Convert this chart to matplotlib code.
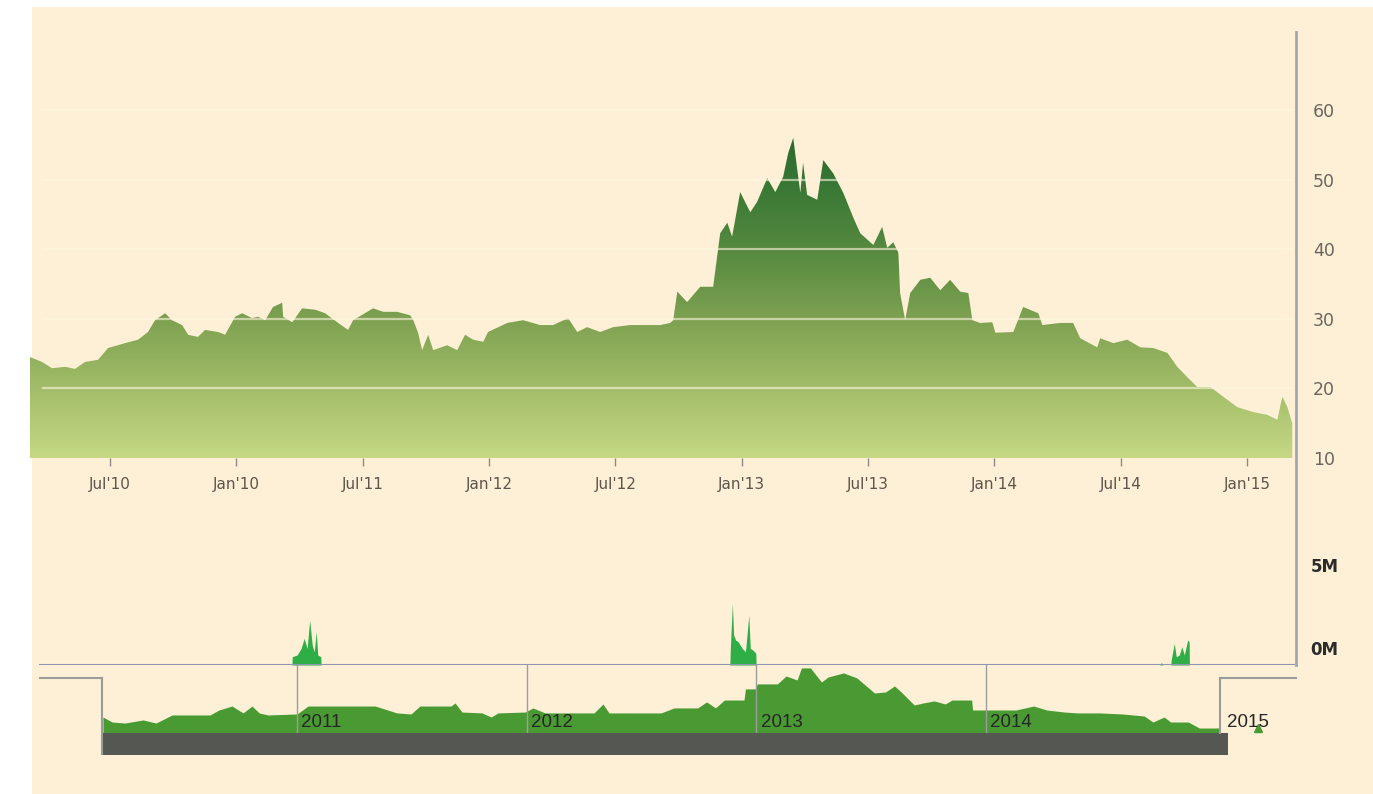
import matplotlib
matplotlib.use("Agg")
import numpy as np
import matplotlib.pyplot as plt
import matplotlib.transforms as mtransforms
from matplotlib.colors import LinearSegmentedColormap
from matplotlib.patches import Rectangle, PathPatch
from matplotlib.lines import Line2D

# price history (time in decimal years, price)
price_t = [2010.183, 2010.231, 2010.270, 2010.322, 2010.361, 2010.401, 2010.452, 2010.492,
           2010.559, 2010.611, 2010.650, 2010.678, 2010.718, 2010.745, 2010.785, 2010.809,
           2010.848, 2010.876, 2010.928, 2010.955, 2010.995, 2011.023, 2011.062, 2011.086,
           2011.114, 2011.145, 2011.181, 2011.185, 2011.221, 2011.260, 2011.312, 2011.351,
           2011.403, 2011.442, 2011.462, 2011.541, 2011.581, 2011.636, 2011.688, 2011.700,
           2011.719, 2011.735, 2011.759, 2011.779, 2011.834, 2011.874, 2011.905, 2011.937,
           2011.977, 2011.996, 2012.072, 2012.135, 2012.202, 2012.254, 2012.313, 2012.349,
           2012.388, 2012.440, 2012.491, 2012.559, 2012.626, 2012.677, 2012.717, 2012.729,
           2012.745, 2012.784, 2012.836, 2012.887, 2012.915, 2012.943, 2012.962, 2012.994,
           2013.034, 2013.061, 2013.101, 2013.133, 2013.164, 2013.184, 2013.204, 2013.220,
           2013.232, 2013.243, 2013.259, 2013.299, 2013.323, 2013.362, 2013.402, 2013.441,
           2013.469, 2013.521, 2013.556, 2013.576, 2013.600, 2013.620, 2013.627, 2013.647,
           2013.667, 2013.707, 2013.746, 2013.786, 2013.825, 2013.865, 2013.897, 2013.913,
           2013.944, 2013.992, 2014.004, 2014.075, 2014.114, 2014.174, 2014.190, 2014.261,
           2014.312, 2014.340, 2014.407, 2014.419, 2014.471, 2014.526, 2014.578, 2014.629,
           2014.685, 2014.724, 2014.764, 2014.803, 2014.855, 2014.906, 2014.962, 2015.025,
           2015.080, 2015.120, 2015.140, 2015.160, 2015.179]
price_v = [24.5, 23.8, 22.9, 23.1, 22.8, 23.8, 24.1, 25.8,
           26.5, 27.0, 28.1, 29.8, 30.8, 29.8, 29.1, 27.7,
           27.4, 28.4, 28.1, 27.7, 30.3, 30.8, 30.1, 30.3,
           29.8, 31.7, 32.3, 30.3, 29.5, 31.5, 31.3, 30.8,
           29.4, 28.4, 29.8, 31.5, 31.0, 31.0, 30.5, 29.8,
           28.0, 25.5, 27.7, 25.5, 26.2, 25.5, 27.7, 27.0,
           26.7, 28.1, 29.4, 29.8, 29.1, 29.1, 30.1, 28.1,
           28.8, 28.1, 28.8, 29.1, 29.1, 29.1, 29.4, 29.8,
           33.9, 32.4, 34.6, 34.6, 42.3, 43.8, 41.8, 48.2,
           45.3, 46.8, 50.2, 48.2, 50.4, 53.8, 56.0, 51.4,
           48.1, 52.4, 47.8, 47.1, 52.8, 50.9, 48.1, 44.6,
           42.3, 40.6, 43.2, 40.2, 41.0, 39.5, 33.7, 29.8,
           33.7, 35.6, 35.9, 34.1, 35.6, 33.9, 33.7, 29.8,
           29.4, 29.5, 28.0, 28.1, 31.7, 30.8, 29.1, 29.4,
           29.4, 27.2, 25.9, 27.2, 26.5, 27.0, 25.9, 25.8,
           25.1, 23.1, 21.6, 20.2, 20.2, 18.8, 17.3, 16.6,
           16.2, 15.5, 18.8, 17.3, 15.0]

# traded volume (millions)
vol_t = [2010.183, 2011.220, 2011.221, 2011.240, 2011.256, 2011.268, 2011.280, 2011.290,
         2011.300, 2011.308, 2011.316, 2011.322, 2011.334, 2011.335,
         2012.953, 2012.955, 2012.963, 2012.968, 2012.976, 2012.986, 2013.002, 2013.015,
         2013.028, 2013.034, 2013.044, 2013.056, 2013.057,
         2014.655, 2014.661, 2014.667, 2014.699, 2014.700, 2014.712, 2014.720, 2014.732,
         2014.742, 2014.752, 2014.765, 2014.771, 2014.772, 2015.179]
vol_v = [0, 0, 0.5, 0.6, 1.0, 1.6, 1.0, 2.7,
         1.2, 0.8, 2.0, 0.6, 0.5, 0,
         0, 1.0, 3.7, 1.8, 1.5, 1.4, 1.0, 0.8,
         3.0, 1.0, 0.9, 0.7, 0,
         0, 0.15, 0, 0, 0.3, 1.3, 0.5, 0.6,
         1.1, 0.6, 1.5, 1.4, 0, 0]

# navigator overview series
nav_t = [2010.155, 2010.195, 2010.251, 2010.330, 2010.386, 2010.456, 2010.621, 2010.660,
         2010.717, 2010.765, 2010.804, 2010.835, 2010.874, 2011.000, 2011.048, 2011.340,
         2011.435, 2011.496, 2011.535, 2011.670, 2011.688, 2011.718, 2011.805, 2011.845,
         2011.875, 2011.993, 2012.027, 2012.080, 2012.293, 2012.332, 2012.358, 2012.585,
         2012.641, 2012.744, 2012.783, 2012.822, 2012.860, 2012.946, 2012.952, 2012.994,
         2013.004, 2013.091, 2013.129, 2013.177, 2013.196, 2013.235, 2013.283, 2013.312,
         2013.379, 2013.437, 2013.514, 2013.562, 2013.601, 2013.630, 2013.687, 2013.726,
         2013.774, 2013.822, 2013.851, 2013.937, 2013.941, 2013.995, 2014.130, 2014.207,
         2014.264, 2014.341, 2014.399, 2014.495, 2014.592, 2014.688, 2014.726, 2014.775,
         2014.803, 2014.880, 2014.928, 2015.015]
nav_v = [22.5, 19.1, 18.4, 20.5, 18.4, 23.9, 23.9, 27.3,
         30.0, 25.3, 30.0, 25.3, 23.9, 24.6, 30.0, 30.0,
         25.3, 24.6, 30.0, 30.0, 32.1, 25.9, 25.3, 22.5,
         25.3, 25.9, 28.7, 25.3, 25.3, 31.4, 25.3, 25.3,
         28.7, 28.7, 32.8, 28.7, 34.1, 34.1, 41.7, 41.7,
         45.1, 45.1, 50.5, 47.8, 56.0, 56.0, 46.4, 49.8,
         52.6, 49.2, 38.9, 39.6, 43.7, 39.6, 30.7, 32.1,
         33.5, 31.4, 34.1, 34.1, 27.3, 27.3, 27.3, 30.0,
         27.3, 25.9, 25.3, 25.3, 24.6, 23.2, 19.1, 22.5,
         19.1, 19.1, 15.0, 15.0]
nav_range = (2010.151, 2015.02)
nav_extra = (2015.184, 15.0)

tick_pos = [2010.5, 2011.0, 2011.5, 2012.0, 2012.5, 2013.0, 2013.5, 2014.0, 2014.5, 2015.0]
tick_labels = ["Jul'10", "Jan'10", "Jul'11", "Jan'12", "Jul'12",
               "Jan'13", "Jul'13", "Jan'14", "Jul'14", "Jan'15"]
price_ticks = [10, 20, 30, 40, 50, 60]
nav_years = [2011, 2012, 2013, 2014, 2015]

W, H = 1373, 794


def box(x0, y0, x1, y1):
    # pixel box (top-left origin) -> figure rect
    return [x0 / W, 1 - y1 / H, (x1 - x0) / W, (y1 - y0) / H]


plt.rcParams["font.family"] = ["DejaVu Sans"]
fig = plt.figure(figsize=(W / 100, H / 100), dpi=100, facecolor="white")
fig.add_artist(Rectangle((32 / W, 0), 1 - 32 / W, 1 - 7 / H, transform=fig.transFigure,
                         facecolor="#fdf0d6", edgecolor="none", zorder=0))

# ---- main price chart
ax = fig.add_axes(box(30, 32, 1295, 458))
ax.set_facecolor("none")
xlim = (2010.183, 2015.19)
ylim = (10, 71.2)

poly = ax.fill_between(price_t, price_v, 10, facecolor="none", edgecolor="none")
clip = PathPatch(poly.get_paths()[0], transform=ax.transData, facecolor="none", edgecolor="none")
ax.add_patch(clip)
cmap = LinearSegmentedColormap.from_list(
    "price", [(0.0, "#c6d884"), (0.213, "#a2bd69"), (0.426, "#7da151"),
              (0.638, "#55893f"), (0.851, "#367634"), (1.0, "#2a682c")])
grad = np.linspace(0, 1, 256).reshape(-1, 1)
im = ax.imshow(grad, extent=[xlim[0], xlim[1], 10, 57], origin="lower", aspect="auto",
               cmap=cmap, zorder=1)
im.set_clip_path(clip)

for v in price_ticks[1:]:
    ax.axhline(v, xmin=0.01, xmax=0.997, color="#fff6df", alpha=0.6, lw=1.6, zorder=3)

ax.set_xlim(*xlim)
ax.set_ylim(*ylim)
for s in ax.spines.values():
    s.set_visible(False)
ax.yaxis.tick_right()
ax.set_yticks(price_ticks)
ax.set_yticklabels([str(v) for v in price_ticks])
ax.tick_params(axis="y", length=0, pad=13, labelsize=12.5, labelcolor="#6b6560")
ax.set_xticks(tick_pos)
ax.set_xticklabels(tick_labels)
ax.tick_params(axis="x", length=6, width=1, color="#8f8a84", pad=8,
               labelsize=11, labelcolor="#5e554c")

# ---- volume panel
axv = fig.add_axes(box(30, 540, 1295, 665))
axv.set_facecolor("none")
axv.fill_between(vol_t, vol_v, 0, color="#2fae48", lw=0)
axv.set_xlim(*xlim)
axv.set_ylim(0, 7.53)
axv.axis("off")
axv.axhline(0, xmin=10 / 1265, xmax=1.0, color="#8e94b6", lw=1.5)
for val, lab in [(0, "0M"), (5, "5M")]:
    axv.annotate(lab, xy=(1, val), xycoords=("axes fraction", "data"),
                 xytext=(11, 11), textcoords="offset points", ha="left", va="center",
                 fontsize=12, fontweight="bold", color="#2b2b2b")

# right axis line through both panels
fig.add_artist(Line2D([1296 / W, 1296 / W], [1 - 32 / H, 1 - 665 / H],
                      color="#a4a6b2", lw=2, transform=fig.transFigure))

# ---- navigator
axn = fig.add_axes(box(40, 665, 1296, 733))
axn.set_facecolor("none")
axn.fill_between(nav_t, nav_v, 11.6, color="#4a9a33", lw=0, zorder=2)
axn.plot([nav_extra[0]], [nav_extra[1]], marker="^", ms=6, color="#4a9a33", zorder=2)
axn.set_xlim(2009.881, 2015.349)
axn.set_ylim(11.6, 58)
axn.axis("off")
bt = mtransforms.blended_transform_factory(axn.transData, axn.transAxes)
for yr in nav_years[:-1]:
    axn.plot([yr, yr], [0, 1], transform=bt, color="#9d9d9d", lw=1, zorder=3)
for yr in nav_years:
    dx = 3 if yr < nav_years[-1] else 8
    axn.annotate(str(yr), xy=(yr, 0.16), xycoords=bt, xytext=(dx, 0),
                 textcoords="offset points", ha="left", va="center",
                 fontsize=13.5, family="Liberation Sans", color="#262626", zorder=4)

axn.add_patch(Rectangle((nav_range[0], -0.325), 2015.053 - nav_range[0], 0.325,
                        transform=bt, facecolor="#555753", edgecolor="none",
                        clip_on=False, zorder=3))
hy = (733 - 678) / 68
outline = dict(color="#9b9b9b", lw=1.5, clip_on=False, zorder=4)
axn.plot([2009.881, nav_range[0]], [hy, hy], transform=bt, **outline)
axn.plot([nav_range[0], nav_range[0]], [hy, -0.31], transform=bt, **outline)
axn.plot([nav_range[1], nav_range[1]], [hy, 0], transform=bt, **outline)
axn.plot([nav_range[1], 2015.349], [hy, hy], transform=bt, **outline)

fig.savefig("out.png", dpi=100, facecolor="white")
